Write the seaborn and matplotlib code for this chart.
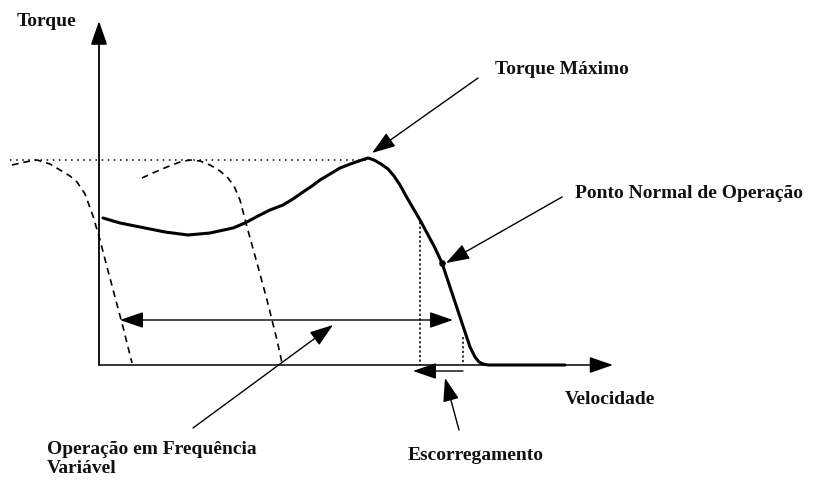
import matplotlib
matplotlib.use("Agg")
import matplotlib.pyplot as plt
import seaborn as sns
import pandas as pd

# Schematic drawn in picture units (speed to the right, torque downward-inverted)
solid_speed = [103, 120, 140, 165, 188, 210, 233, 245, 258, 270, 283, 293, 303, 312,
               320, 330, 340, 353, 362, 368, 374, 381, 388, 394, 400, 406, 413, 420,
               427, 435, 442, 450, 460, 470, 475, 479, 483, 488, 565]
solid_torque = [218, 223, 227, 232, 235, 233, 228, 223, 216, 210, 205, 199, 192, 186,
                180, 174, 168, 163, 160, 158, 160, 164, 169, 176, 185, 196, 208, 220,
                233, 248, 263, 287, 317, 347, 357, 362, 364, 365, 365]

dash1_speed = [12, 25, 37, 50, 60, 70, 77, 85, 93, 100, 107, 115, 123, 132]
dash1_torque = [165, 162, 160, 164, 170, 176, 182, 194, 216, 240, 267, 297, 327, 363]

dash2_speed = [142, 155, 167, 180, 190, 200, 210, 220, 228, 234, 240, 247, 257, 267, 277, 282]
dash2_torque = [178, 172, 167, 162, 160, 161, 165, 171, 178, 186, 200, 227, 263, 300, 340, 363]

max_torque = 160
origin = (99, 365)
normal_point = (442, 263)
slip_marks = [420, 463]
slip_tops = [222, 337]
vf_range = [120, 453]
vf_level = 320

labels = {
    "Torque": (17, 21),
    "Torque Máximo": (495, 70),
    "Ponto Normal de Operação": (575, 193),
    "Velocidade": (565, 399),
    "Escorregamento": (408, 456),
    "Operação em Frequência\nVariável": (47, 459),
}

sns.set_theme(style="white")
plt.rcParams["font.family"] = ["Liberation Serif", "DejaVu Serif"]

fig = plt.figure(figsize=(8.14, 4.82), dpi=100)
ax = fig.add_axes([0, 0, 1, 1])
ax.set_xlim(0, 814)
ax.set_ylim(482, 0)
ax.axis("off")

head = dict(arrowstyle="-|>,head_length=1.45,head_width=0.5", mutation_scale=10,
            color="black", lw=1.0, shrinkA=0, shrinkB=0)
both = dict(head, arrowstyle="<|-|>,head_length=1.45,head_width=0.5")

# axes
ax.annotate("", xy=(origin[0], 21), xytext=origin, arrowprops=dict(head, lw=1.3))
ax.annotate("", xy=(613, origin[1]), xytext=origin, arrowprops=dict(head, lw=1.1))

# dotted reference lines
ax.plot([10, 367], [max_torque, max_torque], color="black", lw=1.1, ls=(0, (1, 3)))
for sx, top in zip(slip_marks, slip_tops):
    ax.plot([sx, sx], [top, origin[1]], color="black", lw=1.1, ls=(0, (1.5, 1.5)))

# curves
curves = pd.concat([
    pd.DataFrame({"speed": dash1_speed, "torque": dash1_torque, "curve": "f1"}),
    pd.DataFrame({"speed": dash2_speed, "torque": dash2_torque, "curve": "f2"}),
])
for name, sub in curves.groupby("curve"):
    sns.lineplot(data=sub, x="speed", y="torque", sort=False, estimator=None,
                 color="black", lw=1.2, ax=ax, linestyle=(0, (4, 3)))
sns.lineplot(x=solid_speed, y=solid_torque, sort=False, estimator=None,
             color="black", lw=2.2, ax=ax)
ax.set_xlabel("")
ax.set_ylabel("")
ax.scatter([normal_point[0]], [normal_point[1]], s=14, color="black", zorder=5)

# variable-frequency range and slip arrows
ax.annotate("", xy=(vf_range[0], vf_level), xytext=(vf_range[1], vf_level), arrowprops=both)
ax.annotate("", xy=(413, 371), xytext=(463, 371), arrowprops=head)

# callout arrows
ax.annotate("", xy=(372, 153), xytext=(478, 78), arrowprops=head)
ax.annotate("", xy=(446, 263), xytext=(562, 197), arrowprops=head)
ax.annotate("", xy=(445, 378), xytext=(459, 430), arrowprops=head)
ax.annotate("", xy=(333, 325), xytext=(193, 428), arrowprops=head)

for text, (x, y) in labels.items():
    ax.text(x, y, text, fontsize=14, fontweight="bold", ha="left", va="center",
            color="#111111", linespacing=1.1)

fig.savefig("out.png", dpi=100)
